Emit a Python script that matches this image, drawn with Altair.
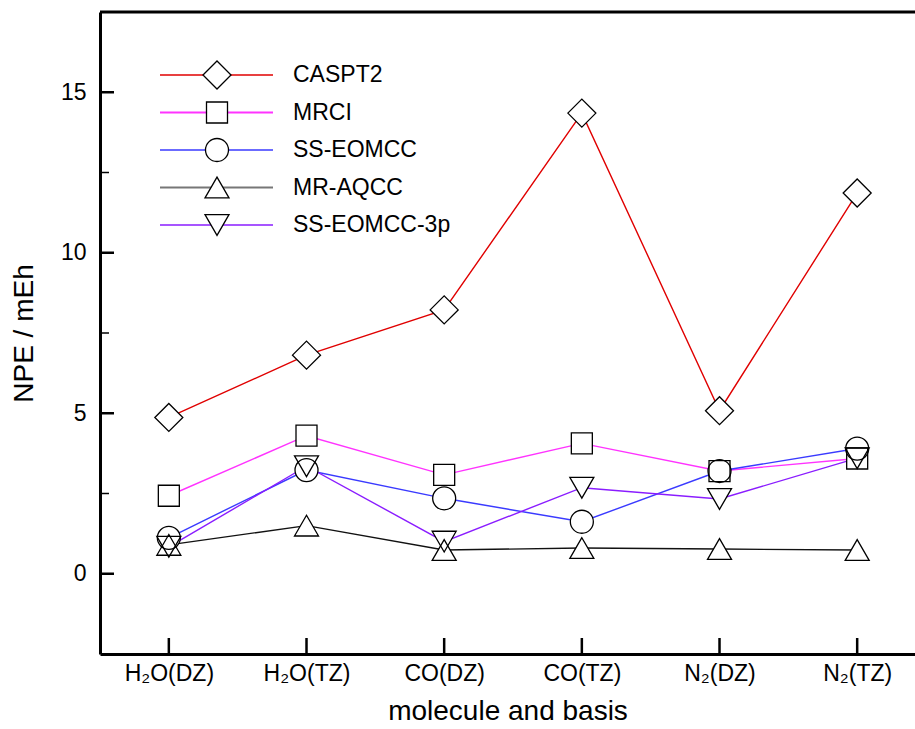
import altair as alt
import pandas as pd

# Categories (molecule / basis set) along the x axis
systems = ["H₂O(DZ)", "H₂O(TZ)", "CO(DZ)", "CO(TZ)", "N₂(DZ)", "N₂(TZ)"]

# Non-parallelity error (mEh) for each method
methods = ["CASPT2", "MRCI", "SS-EOMCC", "MR-AQCC", "SS-EOMCC-3p"]
caspt2 = [4.87, 6.81, 8.22, 14.35, 5.08, 11.86]
mrci = [2.43, 4.30, 3.08, 4.06, 3.20, 3.59]
ss_eomcc = [1.12, 3.23, 2.35, 1.62, 3.20, 3.90]
mr_aqcc = [0.90, 1.50, 0.74, 0.80, 0.77, 0.74]
ss_eomcc_3p = [0.84, 3.35, 1.00, 2.68, 2.33, 3.60]
series = [caspt2, mrci, ss_eomcc, mr_aqcc, ss_eomcc_3p]

# Styling per method
line_colors = ["#e00000", "#ff33ff", "#3a3aff", "#111111", "#8a1cff"]
shapes = ["diamond", "square", "circle", "triangle-up", "triangle-down"]
sizes = [784, 441, 529, 576, 576]

# Tick positions
y_major = [0, 5, 10, 15]
y_minor = [2.5, 7.5, 12.5]

W, H = 815, 642
FONT = "Liberation Sans"

rows = []
for m, vals in zip(methods, series):
    for i, v in enumerate(vals):
        rows.append({"method": m, "idx": i, "npe": v})
df = pd.DataFrame(rows)

label_expr = "[" + ",".join("'%s'" % s for s in systems) + "][datum.value]"

x_enc = alt.X(
    "idx:Q",
    scale=alt.Scale(domain=[-0.5, 5.42], nice=False, zero=False),
    axis=alt.Axis(
        values=list(range(len(systems))),
        labelExpr=label_expr,
        title="molecule and basis",
        ticks=False,
        tickSize=0,
        grid=False,
        labelPadding=8,
        titlePadding=12,
        labelFontSize=23,
        titleFontSize=28,
        labelFont=FONT,
        titleFont=FONT,
        titleFontWeight="normal",
        labelColor="black",
        titleColor="black",
        domainColor="black",
        domainWidth=3,
    ),
)
y_enc = alt.Y(
    "npe:Q",
    scale=alt.Scale(domain=[-2.5, 17.5], nice=False, zero=False),
    axis=alt.Axis(
        values=y_major,
        title="NPE / mEh",
        ticks=False,
        tickSize=0,
        grid=False,
        labelPadding=14,
        titlePadding=22,
        labelFontSize=23,
        titleFontSize=28,
        labelFont=FONT,
        titleFont=FONT,
        titleFontWeight="normal",
        labelColor="black",
        titleColor="black",
        domainColor="black",
        domainWidth=3,
    ),
)

layers = []

# Connecting lines
layers.append(
    alt.Chart(df)
    .mark_line(strokeWidth=1.4)
    .encode(
        x=x_enc,
        y=y_enc,
        color=alt.Color(
            "method:N",
            scale=alt.Scale(domain=methods, range=line_colors),
            legend=None,
        ),
    )
)

# White backing under every symbol so lines stop at the symbol edge
for m, shp, sz in zip(methods, shapes, sizes):
    layers.append(
        alt.Chart(df[df.method == m])
        .mark_point(shape=shp, size=sz, filled=True, color="white", opacity=1)
        .encode(x=x_enc, y=y_enc)
    )
# Symbol outlines
for m, shp, sz in zip(methods, shapes, sizes):
    layers.append(
        alt.Chart(df[df.method == m])
        .mark_point(shape=shp, size=sz, filled=False, stroke="black",
                    strokeWidth=1.3, opacity=1)
        .encode(x=x_enc, y=y_enc)
    )

# Inward ticks
layers.append(
    alt.Chart(pd.DataFrame({"npe": y_major}))
    .mark_rule(color="black", strokeWidth=2.5)
    .encode(y=y_enc, x=alt.value(0), x2=alt.value(14))
)
layers.append(
    alt.Chart(pd.DataFrame({"npe": y_minor}))
    .mark_rule(color="black", strokeWidth=1.5)
    .encode(y=y_enc, x=alt.value(0), x2=alt.value(9))
)
layers.append(
    alt.Chart(pd.DataFrame({"idx": list(range(len(systems)))}))
    .mark_rule(color="black", strokeWidth=2.5)
    .encode(x=x_enc, y=alt.value(H), y2=alt.value(H - 16))
)

# Top frame line
layers.append(
    alt.Chart(pd.DataFrame({"idx": [0]}))
    .mark_rule(color="black", strokeWidth=3)
    .encode(x=alt.value(0), x2=alt.value(W), y=alt.value(0))
)

# Legend block
for i, (m, col, shp, sz) in enumerate(zip(methods, line_colors, shapes, sizes)):
    ly = 63 + 37.5 * i
    ldf = pd.DataFrame({"method": [m]})
    lw = 2.2 if m in ("MRCI", "MR-AQCC") else 1.4
    lcol = "#777777" if m == "MR-AQCC" else col
    layers.append(
        alt.Chart(ldf)
        .mark_rule(color=lcol, strokeWidth=lw)
        .encode(x=alt.value(60), x2=alt.value(173), y=alt.value(ly))
    )
    layers.append(
        alt.Chart(ldf)
        .mark_point(shape=shp, size=sz, filled=True, fill="white",
                    stroke="black", strokeWidth=1.3, opacity=1)
        .encode(x=alt.value(117), y=alt.value(ly))
    )
    layers.append(
        alt.Chart(ldf)
        .mark_text(align="left", baseline="middle", fontSize=23, font=FONT,
                   color="black")
        .encode(x=alt.value(193), y=alt.value(ly), text="method:N")
    )

chart = (
    alt.layer(*layers)
    .properties(
        width=W,
        height=H,
        autosize=alt.AutoSizeParams(type="none"),
        padding={"left": 100, "top": 12, "right": 0, "bottom": 75},
        background="white",
    )
    .configure_view(stroke=None)
)

chart.save("out.html", embed_options={"renderer": "svg", "actions": False})
